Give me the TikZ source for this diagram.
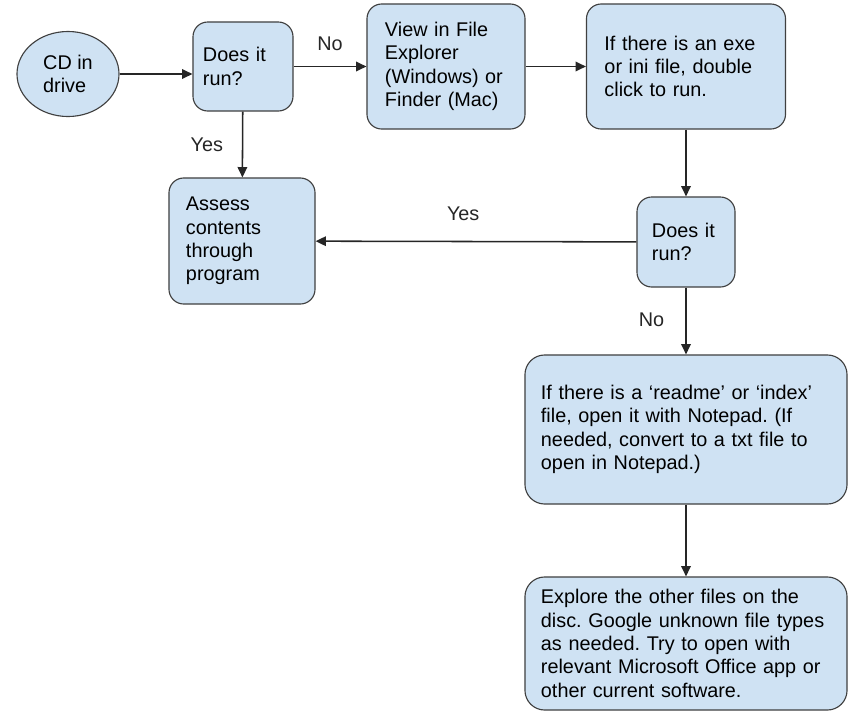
\documentclass[tikz,border=0pt]{standalone}
\usepackage{fontspec}
\setmainfont{Liberation Sans}
\usetikzlibrary{arrows.meta,shapes.geometric}
\definecolor{boxblue}{HTML}{CFE2F3}
\definecolor{edgegray}{HTML}{404040}
\frenchspacing

\begin{document}
\begin{tikzpicture}[x=0.025cm, y=-0.025cm,
  every node/.style={font=\fontsize{14.1pt}{16.6pt}\selectfont},
  procbox/.style={draw=edgegray, line width=0.8pt, fill=boxblue, rounded corners=10.5pt,
    align=left, inner xsep=0.45cm, inner ysep=0pt},
  flow/.style={-{Triangle[length=2.6mm, width=2.4mm]}, line width=1.1pt, black!85}]

  \useasboundingbox (0,0) rectangle (848,711);

  %% Top row
  \node[procbox, ellipse, sharp corners, inner sep=0pt, minimum width=2.55cm, minimum height=2.125cm]
    (cd) at (68,74) {CD in\\drive};
  \node[procbox, inner xsep=0.25cm, text width=2.0cm, minimum width=2.5cm, minimum height=2.225cm]
    (run1) at (243,66.5) {Does it\\run?};
  \node[procbox, text width=3.05cm, minimum width=3.95cm, minimum height=3.125cm]
    (explorer) at (446,66.5) {View in File\\Explorer\\(Windows) or\\Finder (Mac)};
  \node[procbox, text width=4.075cm, minimum width=4.975cm, minimum height=3.125cm]
    (exe) at (686,66.5) {If there is an exe\\or ini file, double\\click to run.};

  %% Middle row
  \node[procbox, inner xsep=0.425cm, text width=2.8cm, minimum width=3.65cm, minimum height=3.15cm]
    (assess) at (242,241) {Assess\\contents\\through\\program};
  \node[procbox, inner xsep=0.375cm, text width=1.7cm, minimum width=2.45cm, minimum height=2.25cm]
    (run2) at (686,242) {Does it\\run?};

  %% Bottom boxes
  \node[procbox, rounded corners=14pt, inner xsep=0.4cm, text width=7.25cm, minimum width=8.05cm, minimum height=3.725cm]
    (readme) at (686,429.5) {If there is a ‘readme’ or ‘index’\\file, open it with Notepad. (If\\needed, convert to a txt file to\\open in Notepad.)};
  \node[procbox, rounded corners=14pt, inner xsep=0.4cm, text width=7.25cm, minimum width=8.05cm, minimum height=3.325cm]
    (explore) at (686,643.5) {Explore the other files on the\\disc. Google unknown file types\\as needed. Try to open with\\relevant Microsoft Office app or\\other current software.};

  %% Connectors
  \draw[flow] (cd) -- (cd -| run1.west);
  \draw[flow] (run1) -- node[above=7.7pt] (no1) {No} (explorer);
  \draw[flow] (explorer) -- (exe);
  \draw[flow] (run1) -- node[left=10pt] (yes1) {Yes} (assess);
  \draw[flow] (exe) -- (run2);
  \draw[flow] (run2) -- node[pos=0.54, above=10.7pt] (yes2) {Yes} (assess);
  \draw[flow] (run2) -- node[pos=0.485, left=11.7pt] (no2) {No} (readme);
  \draw[flow] (readme) -- (explore);

\end{tikzpicture}
\end{document}
